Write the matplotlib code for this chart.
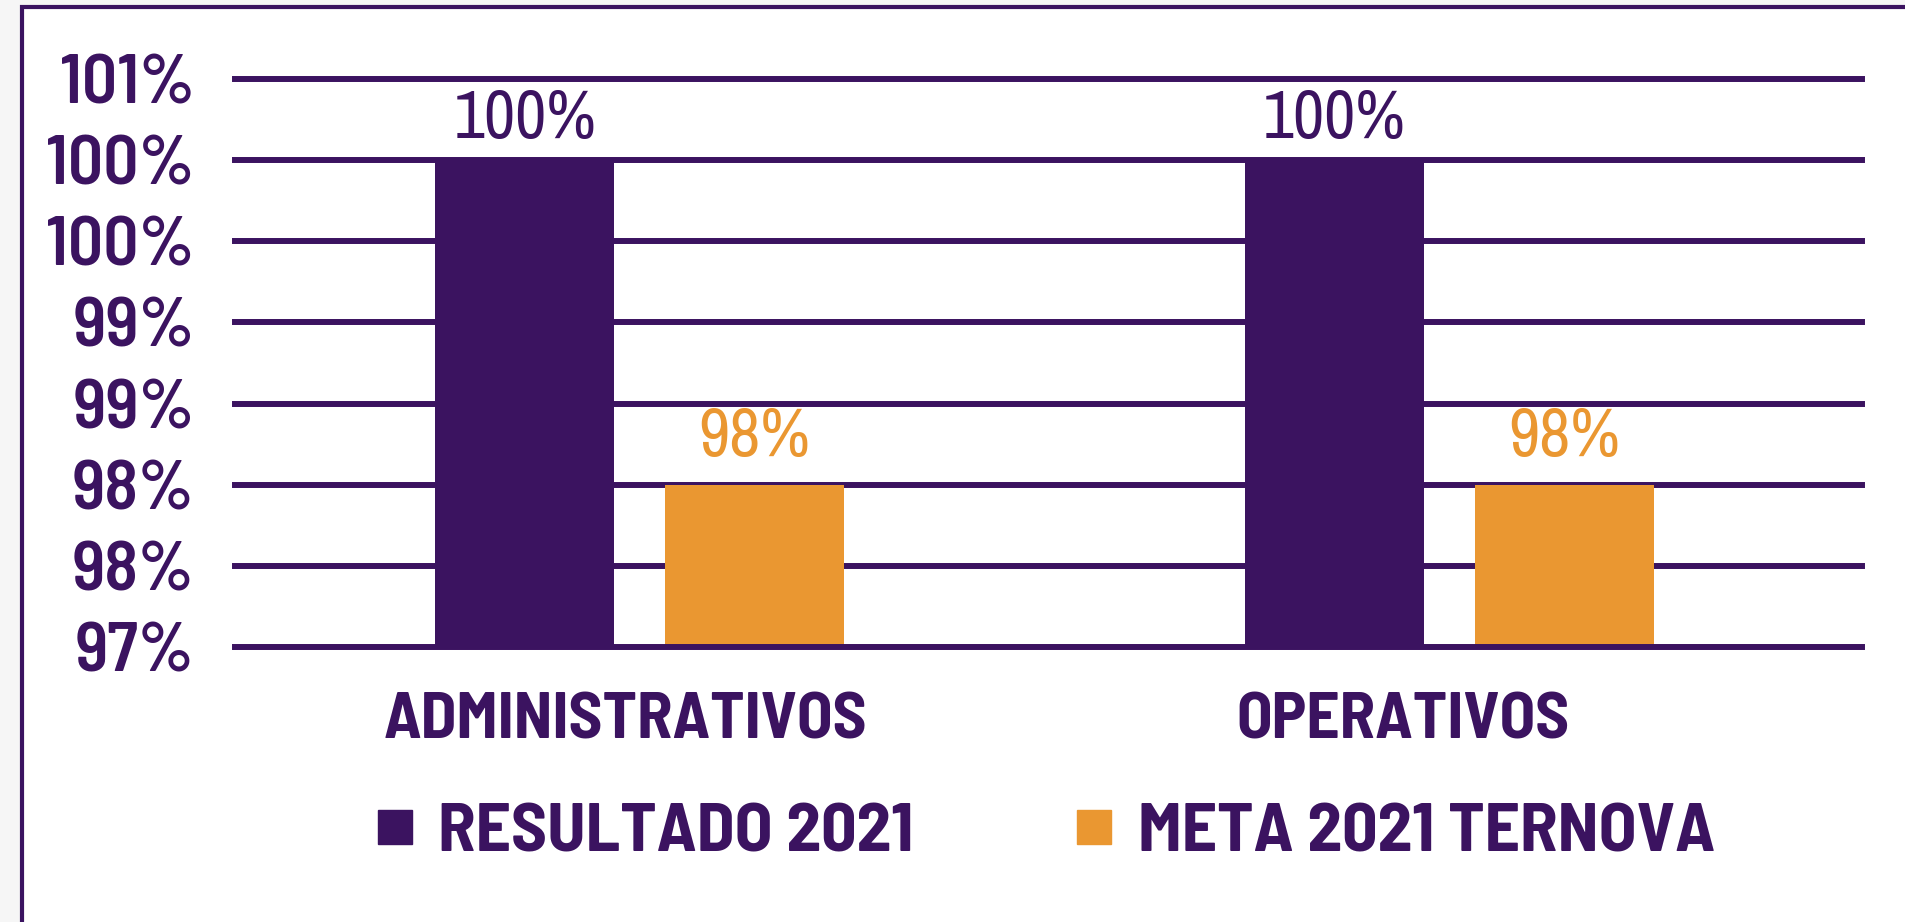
import math

import matplotlib.pyplot as plt
import numpy as np
from matplotlib.lines import Line2D
from matplotlib.patches import Rectangle
from matplotlib.ticker import FuncFormatter, MultipleLocator

categories = ["ADMINISTRATIVOS", "OPERATIVOS"]
resultado = [100, 100]
meta = [98, 98]
series_names = ["RESULTADO 2021", "META 2021 TERNOVA"]

purple = "#3b1360"
orange = "#ea9731"

plt.rcParams["font.family"] = ["Barlow Semi Condensed", "DejaVu Sans"]
plt.rcParams["font.weight"] = "bold"
label_font = ["Archivo Narrow", "DejaVu Sans"]

fig = plt.figure(figsize=(19.06, 9.22), dpi=100, facecolor="#f6f6f6")

# white card with a purple border behind the chart
frame = Rectangle((22 / 1906, -0.05), 1.1, 0.05 + 915 / 922,
                  transform=fig.transFigure, facecolor="white",
                  edgecolor=purple, lw=3, zorder=-1)
fig.add_artist(frame)

ax = fig.add_axes([235 / 1906, 275 / 922, 1627 / 1906, 568 / 922])
ax.patch.set_visible(False)

x = np.arange(len(categories))
width = 0.221
offset = 0.142
b1 = ax.bar(x - offset, resultado, width, color=purple, zorder=2)
b2 = ax.bar(x + offset, meta, width, color=orange, zorder=2)

ax.set_xlim(-0.5, 1.51)
ax.set_ylim(97, 100.5)
ax.yaxis.set_major_locator(MultipleLocator(0.5))
ax.yaxis.set_major_formatter(FuncFormatter(lambda v, _: f"{math.floor(v + 0.5)}%"))

for t in np.arange(97, 100.51, 0.5):
    ax.axhline(t, color=purple, lw=4.3, zorder=3 if t == 97 else 1, clip_on=False)

for s in ax.spines.values():
    s.set_visible(False)

ax.tick_params(axis="y", length=0, pad=29, labelsize=50, labelcolor=purple)
for lab in ax.get_yticklabels():
    lab.set_fontweight("semibold")

# category names sit a little left of the group centres
label_shift = np.array([-0.017, -0.057])
ax.set_xticks(x + label_shift, categories)
ax.tick_params(axis="x", length=0, pad=33, labelsize=47, labelcolor=purple)

ax.bar_label(b1, labels=[f"{v}%" for v in resultado], padding=7,
             color=purple, fontsize=49, fontweight="normal", family=label_font)
ax.bar_label(b2, labels=[f"{v}%" for v in meta], padding=12,
             color=orange, fontsize=49, fontweight="normal", family=label_font)

handles = [Line2D([], [], ls="none", marker="s", ms=25, mfc=c, mec=c)
           for c in (purple, orange)]
fig.legend(handles, series_names, loc="center", bbox_to_anchor=(0.548, 0.0955),
           ncol=2, frameon=False, fontsize=50, handlelength=0.6,
           handletextpad=0.33, columnspacing=2.3, labelcolor=purple)

fig.savefig("out.png", dpi=100, facecolor=fig.get_facecolor())
